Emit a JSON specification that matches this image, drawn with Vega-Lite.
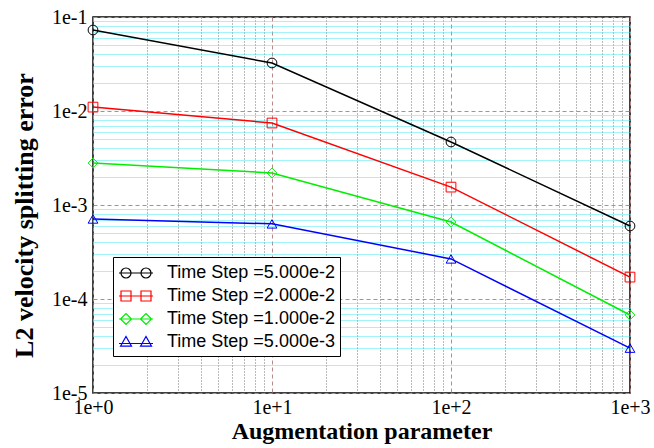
{
  "$schema": "https://vega.github.io/schema/vega-lite/v6.json",
  "width": 537,
  "height": 376,
  "autosize": "none",
  "padding": {"left": 93, "top": 17, "right": 24, "bottom": 55},
  "background": "white",
  "config": {
    "view": {"stroke": "black", "strokeWidth": 1.5},
    "axis": {"labelFont": "Liberation Serif", "labelFontSize": 20, "labelColor": "black", "titleFont": "Liberation Serif", "titleColor": "black"}
  },
  "data": {
    "values": [
      {"series": "Time Step =5.000e-2", "param": 1, "error": 0.0727},
      {"series": "Time Step =5.000e-2", "param": 10, "error": 0.0324},
      {"series": "Time Step =5.000e-2", "param": 100, "error": 0.00468},
      {"series": "Time Step =5.000e-2", "param": 1000, "error": 0.000598},
      {"series": "Time Step =2.000e-2", "param": 1, "error": 0.0110},
      {"series": "Time Step =2.000e-2", "param": 10, "error": 0.00745},
      {"series": "Time Step =2.000e-2", "param": 100, "error": 0.00155},
      {"series": "Time Step =2.000e-2", "param": 1000, "error": 0.000171},
      {"series": "Time Step =1.000e-2", "param": 1, "error": 0.0028},
      {"series": "Time Step =1.000e-2", "param": 10, "error": 0.00219},
      {"series": "Time Step =1.000e-2", "param": 100, "error": 0.000659},
      {"series": "Time Step =1.000e-2", "param": 1000, "error": 0.0000676},
      {"series": "Time Step =5.000e-3", "param": 1, "error": 0.00071},
      {"series": "Time Step =5.000e-3", "param": 10, "error": 0.00063},
      {"series": "Time Step =5.000e-3", "param": 100, "error": 0.000267},
      {"series": "Time Step =5.000e-3", "param": 1000, "error": 0.0000300}
    ]
  },
  "layer": [
    {
      "mark": {"type": "line", "strokeWidth": 1.5},
      "encoding": {
        "x": {
          "field": "param", "type": "quantitative",
          "scale": {"type": "log", "domain": [1, 1000], "nice": false},
          "axis": {
            "orient": "bottom", "title": null, "labels": false, "ticks": false, "domain": false,
            "grid": true, "gridColor": "#666666", "gridDash": [1, 2], "gridWidth": 1, "gridOpacity": 0.9,
            "values": [2, 3, 4, 5, 6, 7, 8, 9, 20, 30, 40, 50, 60, 70, 80, 90, 200, 300, 400, 500, 600, 700, 800, 900]
          }
        },
        "y": {
          "field": "error", "type": "quantitative",
          "scale": {"type": "log", "domain": [0.00001, 0.1], "nice": false},
          "axis": {
            "orient": "left", "title": null, "labels": false, "ticks": false, "domain": false,
            "grid": true, "gridColor": "#33e8f0", "gridDash": [1, 1], "gridWidth": 1, "gridOpacity": 0.9,
            "values": [0.00002, 0.00003, 0.00004, 0.00005, 0.00006, 0.00007, 0.00008, 0.00009,
                       0.0002, 0.0003, 0.0004, 0.0005, 0.0006, 0.0007, 0.0008, 0.0009,
                       0.002, 0.003, 0.004, 0.005, 0.006, 0.007, 0.008, 0.009,
                       0.02, 0.03, 0.04, 0.05, 0.06, 0.07, 0.08, 0.09]
          }
        },
        "color": {
          "field": "series", "type": "nominal",
          "scale": {"domain": ["Time Step =5.000e-2", "Time Step =2.000e-2", "Time Step =1.000e-2", "Time Step =5.000e-3"],
                    "range": ["#000000", "#ff0000", "#00ee00", "#0000ff"]},
          "legend": null
        }
      }
    },
    {
      "mark": {"type": "point", "filled": false, "strokeWidth": 1, "opacity": 1, "size": 95},
      "encoding": {
        "x": {
          "field": "param", "type": "quantitative",
          "scale": {"type": "log", "domain": [1, 1000], "nice": false},
          "axis": {
            "orient": "bottom", "title": "Augmentation parameter",
            "values": [1, 10, 100, 1000],
            "labelExpr": "'1e' + (round(log(datum.value)/LN10) >= 0 ? '+' : '') + round(log(datum.value)/LN10)",
            "labelFont": "Liberation Serif", "labelFontSize": 20, "labelColor": "black",
            "labelPadding": 4, "labelOverlap": false, "labelFlush": false, "labelBound": false,
            "ticks": false, "tickSize": 0, "domain": false,
            "grid": true, "gridColor": "#b88a8a", "gridDash": [4, 3], "gridWidth": 1,
            "titleFont": "Liberation Serif", "titleFontSize": 24, "titleFontWeight": "bold", "titleColor": "black",
            "titleBaseline": "alphabetic", "titleY": 45
          }
        },
        "y": {
          "field": "error", "type": "quantitative",
          "scale": {"type": "log", "domain": [0.00001, 0.1], "nice": false},
          "axis": {
            "orient": "left", "title": "L2 velocity splitting error",
            "values": [0.00001, 0.0001, 0.001, 0.01, 0.1],
            "labelExpr": "'1e' + (round(log(datum.value)/LN10) >= 0 ? '+' : '') + round(log(datum.value)/LN10)",
            "labelFont": "Liberation Serif", "labelFontSize": 20, "labelColor": "black",
            "labelPadding": 6, "labelOverlap": false, "labelFlush": false, "labelBound": false,
            "ticks": false, "tickSize": 0, "domain": false,
            "grid": true, "gridColor": "#b88a8a", "gridDash": [4, 3], "gridWidth": 1,
            "titleFont": "Liberation Serif", "titleFontSize": 26, "titleFontWeight": "bold", "titleColor": "black",
            "titleBaseline": "alphabetic", "titleAngle": -90, "titleX": -61, "titleY": 198
          }
        },
        "color": {
          "field": "series", "type": "nominal",
          "scale": {"domain": ["Time Step =5.000e-2", "Time Step =2.000e-2", "Time Step =1.000e-2", "Time Step =5.000e-3"],
                    "range": ["#000000", "#ff0000", "#00ee00", "#0000ff"]},
          "legend": null
        },
        "shape": {
          "field": "series", "type": "nominal",
          "scale": {"domain": ["Time Step =5.000e-2", "Time Step =2.000e-2", "Time Step =1.000e-2", "Time Step =5.000e-3"],
                    "range": ["circle", "square", "diamond", "triangle-up"]},
          "legend": null
        }
      }
    },
    {
      "transform": [{"filter": "false"}],
      "mark": {"type": "point", "filled": false, "strokeWidth": 1.2, "opacity": 1, "size": 400},
      "encoding": {
        "x": {"field": "param", "type": "quantitative", "axis": null},
        "y": {"field": "error", "type": "quantitative", "axis": null},
        "color": {
          "field": "series", "type": "nominal",
          "scale": {"domain": ["Time Step =5.000e-2", "Time Step =2.000e-2", "Time Step =1.000e-2", "Time Step =5.000e-3"],
                    "range": ["#000000", "#ff0000", "#00ee00", "#0000ff"]},
          "legend": {
            "orient": "none", "legendX": 20, "legendY": 240, "direction": "vertical", "title": null,
            "labelFont": "Liberation Sans", "labelFontSize": 18, "labelColor": "black", "labelLimit": 300,
            "labelOffset": 20, "symbolOffset": 7, "symbolSize": 400, "symbolStrokeWidth": 1.2,
            "padding": 5, "rowPadding": 3, "strokeColor": "black", "fillColor": "white",
            "labelExpr": "datum.label + '\u00a0\u00a0\u00a0'"
          }
        },
        "shape": {
          "field": "series", "type": "nominal",
          "scale": {"domain": ["Time Step =5.000e-2", "Time Step =2.000e-2", "Time Step =1.000e-2", "Time Step =5.000e-3"],
                    "range": [
                      "M-1.7,0L1.7,0M-1.5,0A0.5,0.5,0,1,1,-0.5,0A0.5,0.5,0,1,1,-1.5,0M0.5,0A0.5,0.5,0,1,1,1.5,0A0.5,0.5,0,1,1,0.5,0",
                      "M-1.7,0L1.7,0M-1.5,-0.5L-0.5,-0.5L-0.5,0.5L-1.5,0.5ZM0.5,-0.5L1.5,-0.5L1.5,0.5L0.5,0.5Z",
                      "M-1.7,0L1.7,0M-1.55,0L-1,-0.55L-0.45,0L-1,0.55ZM0.45,0L1,-0.55L1.55,0L1,0.55Z",
                      "M-1.7,0.15L1.7,0.15M-1.55,0.42L-1,-0.55L-0.45,0.42ZM0.45,0.42L1,-0.55L1.55,0.42Z"
                    ]},
          "legend": {
            "orient": "none", "legendX": 20, "legendY": 240, "direction": "vertical", "title": null,
            "labelFont": "Liberation Sans", "labelFontSize": 18, "labelColor": "black", "labelLimit": 300,
            "labelOffset": 20, "symbolOffset": 7, "symbolSize": 400, "symbolStrokeWidth": 1.2,
            "padding": 5, "rowPadding": 3, "strokeColor": "black", "fillColor": "white",
            "labelExpr": "datum.label + '\u00a0\u00a0\u00a0'"
          }
        }
      }
    }
  ],
  "resolve": {
    "scale": {"color": "independent", "shape": "independent"},
    "axis": {"x": "independent", "y": "independent"}
  }
}
